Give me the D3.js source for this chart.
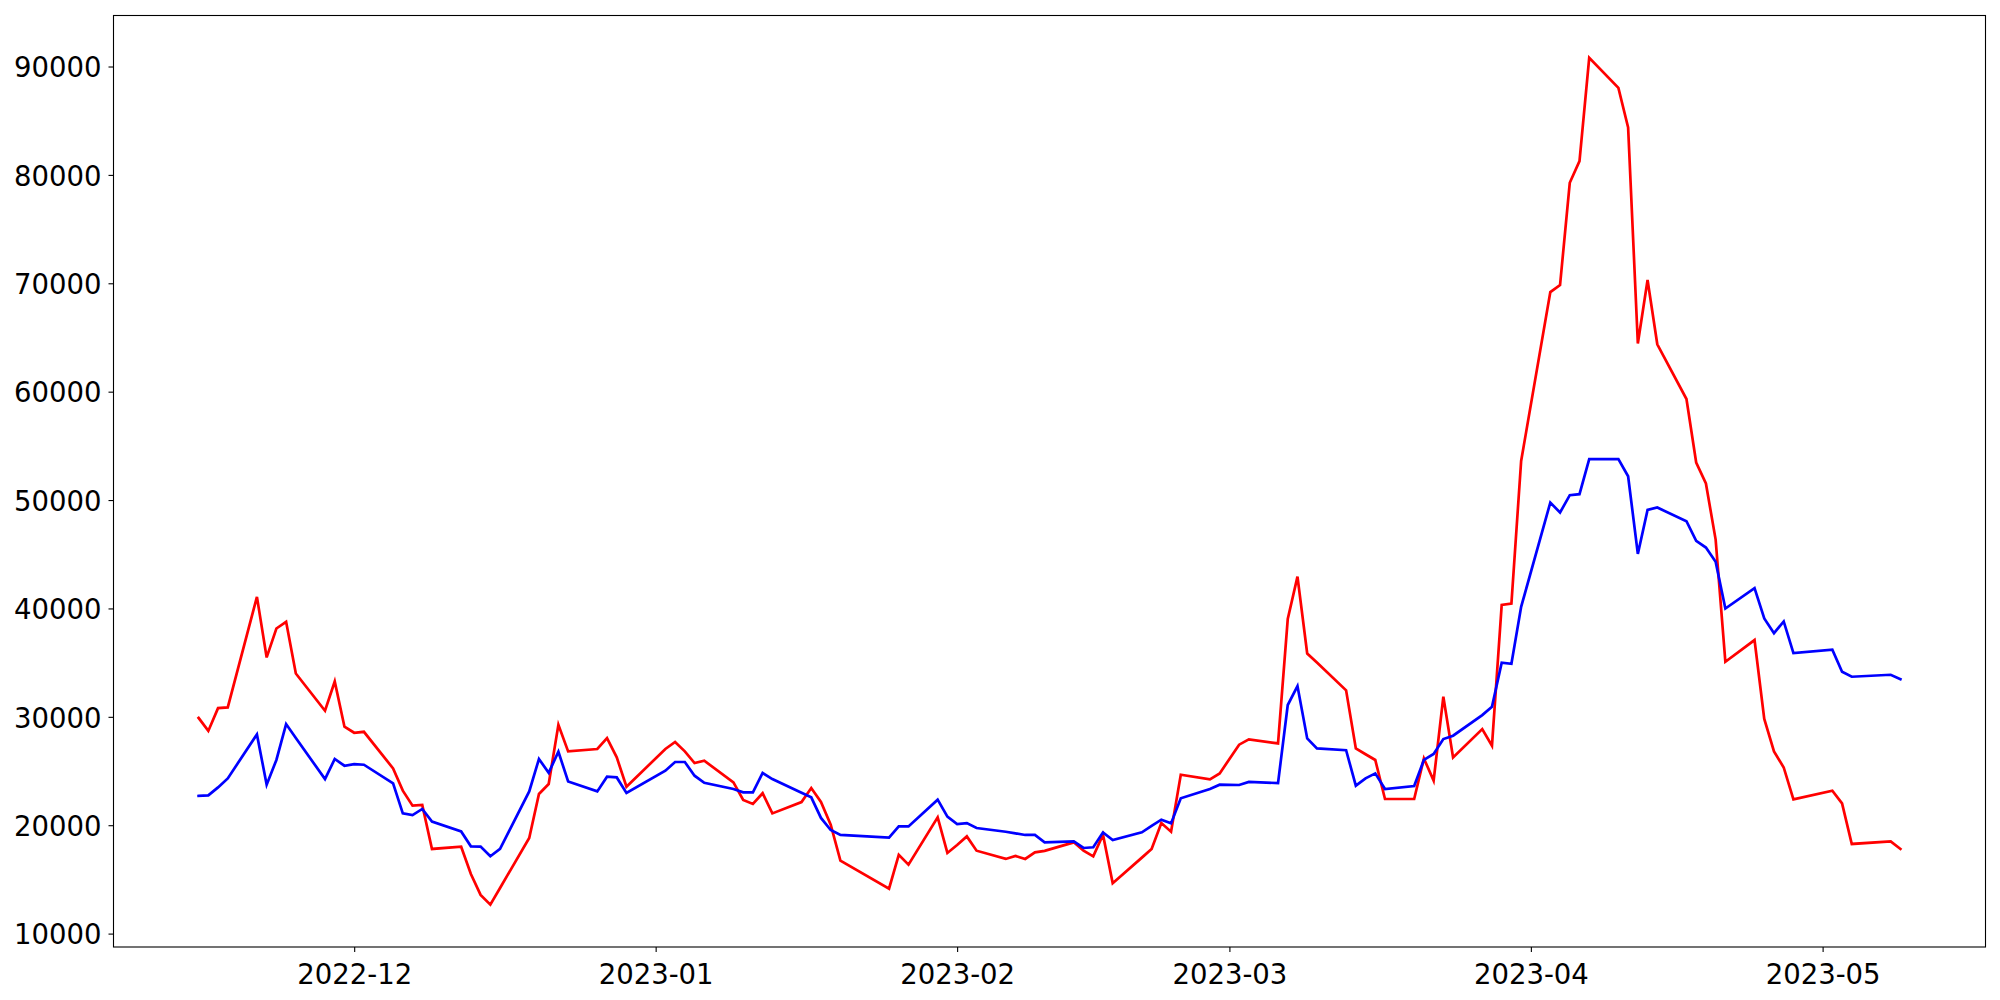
<!DOCTYPE html>
<html>
<head>
<meta charset="utf-8">
<script src="https://cdn.jsdelivr.net/npm/d3@7"></script>
<style>
  html, body { margin: 0; padding: 0; background: #ffffff; }
  svg { display: block; }
  .tick text { font-family: "DejaVu Sans", sans-serif; font-size: 27.5px; fill: #000; }
</style>
</head>
<body>
<svg id="chart" width="2000" height="1000"></svg>
<script>
// ---- data ----
const dates = [
  "2022-11-15","2022-11-16","2022-11-17","2022-11-18","2022-11-21","2022-11-22","2022-11-23","2022-11-24","2022-11-25",
  "2022-11-28","2022-11-29","2022-11-30","2022-12-01","2022-12-02","2022-12-05","2022-12-06","2022-12-07","2022-12-08","2022-12-09",
  "2022-12-12","2022-12-13","2022-12-14","2022-12-15","2022-12-16","2022-12-19","2022-12-20","2022-12-21","2022-12-22","2022-12-23",
  "2022-12-26","2022-12-27","2022-12-28","2022-12-29","2023-01-02","2023-01-03","2023-01-04","2023-01-05","2023-01-06",
  "2023-01-09","2023-01-10","2023-01-11","2023-01-12","2023-01-13","2023-01-16","2023-01-17","2023-01-18","2023-01-19","2023-01-20",
  "2023-01-25","2023-01-26","2023-01-27","2023-01-30","2023-01-31","2023-02-01","2023-02-02","2023-02-03",
  "2023-02-06","2023-02-07","2023-02-08","2023-02-09","2023-02-10","2023-02-13","2023-02-14","2023-02-15","2023-02-16","2023-02-17",
  "2023-02-20","2023-02-21","2023-02-22","2023-02-23","2023-02-24","2023-02-27","2023-02-28","2023-03-02","2023-03-03",
  "2023-03-06","2023-03-07","2023-03-08","2023-03-09","2023-03-10","2023-03-13","2023-03-14","2023-03-15","2023-03-16","2023-03-17",
  "2023-03-20","2023-03-21","2023-03-22","2023-03-23","2023-03-24","2023-03-27","2023-03-28","2023-03-29","2023-03-30","2023-03-31",
  "2023-04-03","2023-04-04","2023-04-05","2023-04-06","2023-04-07","2023-04-10","2023-04-11","2023-04-12","2023-04-13","2023-04-14",
  "2023-04-17","2023-04-18","2023-04-19","2023-04-20","2023-04-21","2023-04-24","2023-04-25","2023-04-26","2023-04-27","2023-04-28",
  "2023-05-02","2023-05-03","2023-05-04","2023-05-08","2023-05-09"
];

const redSeries = [
  29900,28700,30800,30870,41070,35480,38150,38770,34000,
  30560,33260,29090,28530,28620,25240,23190,21800,21870,17810,
  18020,15500,13570,12670,14210,18820,22880,23800,29270,26810,
  27030,28040,26260,23550,27030,27680,26810,25740,25950,
  23950,22330,21960,22950,21090,22140,23430,22140,20050,16730,
  14150,17260,16360,20720,17440,18180,18970,17650,
  16890,17160,16890,17500,17630,18420,17650,17130,19130,14640,
  17010,17810,20200,19400,24660,24230,24780,27430,27920,
  27550,39020,42940,35840,35010,32440,27090,26550,26020,22420,
  22420,26160,24110,31850,26260,28870,27330,40330,40450,53610,
  69190,69840,79270,81270,90800,88030,84370,64450,70300,64370,
  59320,53460,51530,46350,35080,37080,29800,26810,25330,22380,
  23190,22010,18270,18510,17810
];

const blueSeries = [
  22700,22750,23490,24320,28380,23740,26020,29330,28040,
  24260,26110,25490,25640,25580,23860,21090,20940,21500,20330,
  19430,18050,18030,17130,17810,23120,26110,24840,26780,24040,
  23120,24480,24410,22970,25030,25830,25830,24570,23920,
  23340,23030,23030,24820,24260,23000,22570,20670,19560,19100,
  18850,19890,19890,22360,20790,20110,20200,19740,
  19400,19250,19100,19100,18420,18510,17900,17960,19340,18640,
  19340,19930,20510,20170,22480,23340,23740,23710,23990,
  23890,31090,32840,28010,27090,26920,23650,24320,24780,23340,
  23620,26020,26570,27950,28260,30160,30930,34990,34890,40150,
  49770,48850,50450,50540,53770,53770,52200,45030,49090,49310,
  48050,46240,45620,44310,39990,41870,39070,37720,38800,35880,
  36190,34160,33700,33880,33480
];

const yTickValues = [10000,20000,30000,40000,50000,60000,70000,80000,90000];
const xTickLabels = ["2022-12","2023-01","2023-02","2023-03","2023-04","2023-05"];

// ---- layout ----
const svg = d3.select("#chart");
const plotLeft = 113.5, plotRight = 1985.5, plotTop = 15.5, plotBottom = 947;

const parse = d3.timeParse("%Y-%m-%d");
const parseMonth = d3.timeParse("%Y-%m");
const xs = dates.map(parse);

const [xmin, xmax] = d3.extent(xs);
const xpad = (xmax - xmin) * 0.05;
const x = d3.scaleTime()
  .domain([new Date(+xmin - xpad), new Date(+xmax + xpad)])
  .range([plotLeft, plotRight]);

const allVals = redSeries.concat(blueSeries);
const [ymin, ymax] = d3.extent(allVals);
const ypad = (ymax - ymin) * 0.05;
const y = d3.scaleLinear()
  .domain([ymin - ypad, ymax + ypad])
  .range([plotBottom, plotTop]);

// lines
const lineGen = (vals) => d3.line()
  .x((d, i) => x(xs[i]))
  .y((d) => y(d))(vals);

svg.append("path")
  .attr("d", lineGen(redSeries))
  .attr("fill", "none")
  .attr("stroke", "#ff0000")
  .attr("stroke-width", 2.7)
  .attr("stroke-linejoin", "miter")
  .attr("stroke-linecap", "square");

svg.append("path")
  .attr("d", lineGen(blueSeries))
  .attr("fill", "none")
  .attr("stroke", "#0000ff")
  .attr("stroke-width", 2.7)
  .attr("stroke-linejoin", "miter")
  .attr("stroke-linecap", "square");

// axes
const xAxis = d3.axisBottom(x)
  .tickValues(xTickLabels.map(parseMonth))
  .tickFormat(d3.timeFormat("%Y-%m"))
  .tickSize(5)
  .tickSizeOuter(0)
  .tickPadding(6);

const gx = svg.append("g")
  .attr("transform", `translate(0,${plotBottom})`)
  .call(xAxis);
gx.select(".domain").remove();
gx.selectAll(".tick line").attr("stroke", "#000").attr("stroke-width", 1.1);
gx.selectAll(".tick text").attr("dy", "0.95em");

const yAxis = d3.axisLeft(y)
  .tickValues(yTickValues)
  .tickFormat(d3.format("d"))
  .tickSize(5)
  .tickSizeOuter(0)
  .tickPadding(7);

const gy = svg.append("g")
  .attr("transform", `translate(${plotLeft},0)`)
  .call(yAxis);
gy.select(".domain").remove();
gy.selectAll(".tick line").attr("stroke", "#000").attr("stroke-width", 1.1);
gy.selectAll(".tick text").attr("dy", "0.37em");

// frame
svg.append("rect")
  .attr("x", plotLeft)
  .attr("y", plotTop)
  .attr("width", plotRight - plotLeft)
  .attr("height", plotBottom - plotTop)
  .attr("fill", "none")
  .attr("stroke", "#000")
  .attr("stroke-width", 1.1);
</script>
</body>
</html>
